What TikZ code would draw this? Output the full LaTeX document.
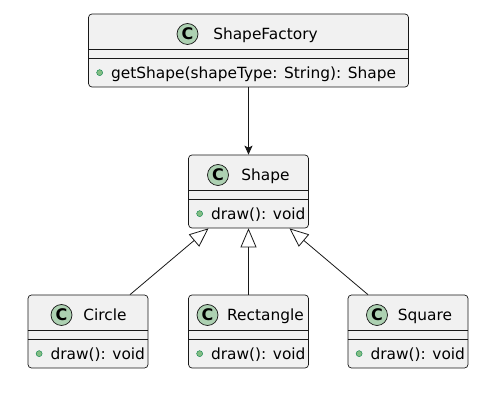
\documentclass[tikz,border=0pt]{standalone}
\usepackage{fontspec}
\setmainfont{DejaVu Sans}
\usetikzlibrary{arrows.meta,positioning}
\definecolor{bg}{HTML}{F1F1F1}
\definecolor{ln}{HTML}{181818}
\definecolor{cfill}{HTML}{ADD1B2}
\definecolor{mfill}{HTML}{84BE84}
\definecolor{mline}{HTML}{038048}
\tikzset{
  cls/.style={draw=ln,line width=0.7pt,fill=bg,rounded corners=3.5pt,minimum height=73pt,inner sep=0pt},
  sep/.style={draw=ln,line width=0.7pt},
  ttl/.style={inner sep=0pt,text height=11pt,text depth=0pt,font=\fontsize{15.4}{18}\selectfont},
  cicon/.style={circle,draw=ln,line width=0.7pt,fill=cfill,minimum size=21pt,inner sep=0pt,font=\fontsize{16}{18}\selectfont\bfseries},
  mdot/.style={circle,draw=mline,line width=0.4pt,fill=mfill,minimum size=6pt,inner sep=0pt},
  mth/.style={ttl},
  ar/.style={-{Stealth[length=9pt,width=8pt,inset=2pt]},draw=ln,line width=0.8pt},
  inh/.style={-{Triangle[open,length=19pt,width=16pt,fill=white]},draw=ln,line width=0.8pt},
}
% class box: name, x, top, width, title, method, icon offset
\newcommand{\umlclass}[7]{%
  \node[cls,minimum width=#4] (#1) at (#2,#3+36.5) {};
  \node[ttl] (#1-t) at (#2+17,#3+20) {#5};
  \node[cicon] (#1-c) at (#2-#7,#3+20) {C};
  \draw[sep] ([yshift=-36pt]#1.north west) -- ([yshift=-36pt]#1.north east);
  \draw[sep] ([yshift=-45pt]#1.north west) -- ([yshift=-45pt]#1.north east);
  \node[mdot] (#1-d) at ([xshift=11.5pt,yshift=-59pt]#1.north west) {};
  \node[mth,right=8pt of #1-d] (#1-m) {#6};
}

\begin{document}
\begin{tikzpicture}[x=1pt,y=-1pt]
\useasboundingbox (0,0) rectangle (499,403);
\umlclass{fac}{248.5}{14}{320pt}{ShapeFactory}{getShape(shapeType: String): Shape}{61}
\umlclass{shp}{248.5}{155}{120pt}{Shape}{draw(): void}{30.5}
\umlclass{cir}{88}{295}{120pt}{Circle}{draw(): void}{26.5}
\umlclass{rec}{248.5}{295}{120pt}{Rectangle}{draw(): void}{41}
\umlclass{sqr}{408}{295}{120pt}{Square}{draw(): void}{31}

\draw[ar] (fac.south) -- (shp.north);
\draw[inh] ([xshift=42pt]cir.north) -- ([xshift=-40pt]shp.south);
\draw[inh] (rec.north) -- (shp.south);
\draw[inh] ([xshift=-40pt]sqr.north) -- ([xshift=41pt]shp.south);
\end{tikzpicture}
\end{document}
